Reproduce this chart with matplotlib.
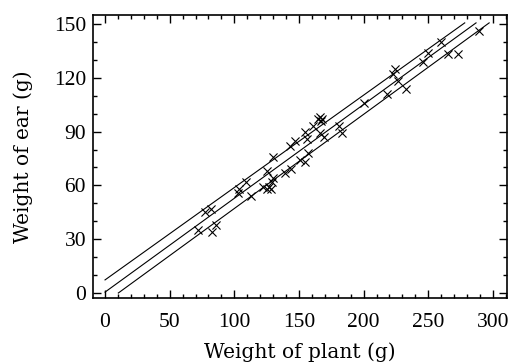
import numpy as np
import matplotlib
matplotlib.use('Agg')
from matplotlib import pyplot as plt
from matplotlib.ticker import MultipleLocator

plant = [72, 77, 82, 83, 86, 103, 104, 109, 113, 122, 125, 125, 127, 128,
         129, 130, 130, 139, 143, 144, 147, 151, 155, 155, 156, 157, 161,
         165, 166, 167, 168, 166, 169, 181, 183, 200, 218, 223, 224, 227,
         233, 246, 250, 260, 265, 273, 289]
ear = [35, 45, 47, 34, 38, 56, 58, 62, 54, 59, 68, 58, 59, 58,
       62, 64, 76, 67, 82, 69, 85, 74, 73, 90, 86, 78, 93,
       97, 98, 96, 97, 89, 87, 93, 89, 106, 111, 122, 125, 118,
       114, 129, 134, 140, 133, 133, 146]

# three fitted lines: intercept, slope
intercepts = [7.3, 0.5, -5.4]
slopes = [0.515, 0.523, 0.525]
y_top = 150.6

plt.rcParams['font.family'] = 'Liberation Serif'

fig = plt.figure(figsize=(5.15, 3.63), dpi=100)
ax = fig.add_axes([0.1806, 0.179, 0.804, 0.7797])

ax.scatter(plant, ear, marker='x', s=34, c='black', linewidths=0.8)

for a, b in zip(intercepts, slopes):
    x0 = max(0, -a / b)
    x1 = (y_top - a) / b
    xs = np.linspace(x0, x1, 50)
    ax.plot(xs, a + b * xs, color='black', lw=0.8)

ax.set_xlim(-9.3, 311)
ax.set_ylim(-2.8, 155)
ax.xaxis.set_major_locator(MultipleLocator(50))
ax.xaxis.set_minor_locator(MultipleLocator(10))
ax.yaxis.set_major_locator(MultipleLocator(30))
ax.yaxis.set_minor_locator(MultipleLocator(10))
ax.tick_params(which='both', direction='in', top=True, right=True,
               labelsize=15.5, width=1)
ax.tick_params(axis='x', pad=11)
ax.tick_params(axis='y', pad=5)
ax.tick_params(which='major', length=6)
ax.tick_params(which='minor', length=3)
for s in ax.spines.values():
    s.set_linewidth(1.2)

ax.set_xlabel('Weight of plant (g)', fontsize=14.5, family='DejaVu Serif',
              labelpad=7)
ax.set_ylabel('Weight of ear (g)', fontsize=14.5, family='DejaVu Serif',
              labelpad=15)

fig.savefig('out.png', dpi=100)
